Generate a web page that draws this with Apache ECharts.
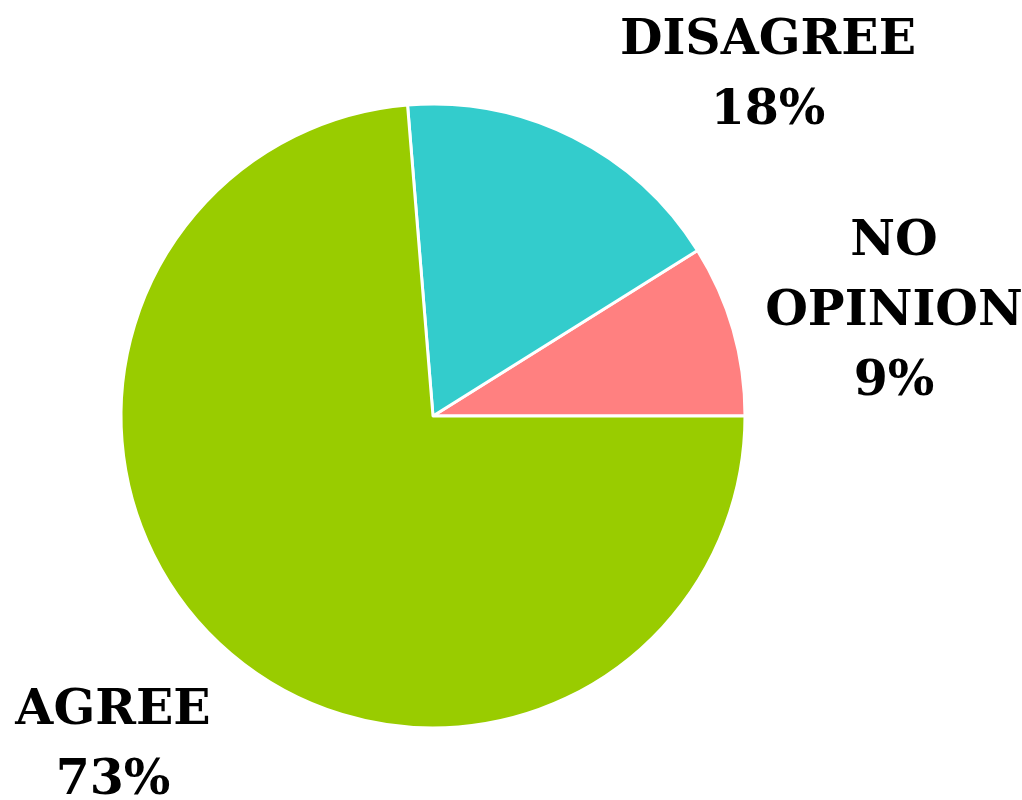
<!DOCTYPE html>
<html>
<head>
<meta charset="utf-8">
<script src="https://cdn.jsdelivr.net/npm/echarts@6/dist/echarts.min.js"></script>
<style>html,body{margin:0;padding:0;background:#fff}#c{width:1022px;height:800px}</style>
</head>
<body>
<div id="c"></div>
<script>
const categories = ['NO\nOPINION', 'DISAGREE', 'AGREE'];
// slice sizes as measured from the wedge angles
const sliceValues = [8.9, 17.4, 73.7];
// percentages as printed on the labels
const labelPercents = [9, 18, 73];
const colors = ['#FF8080', '#33CCCC', '#99CC00'];
// label anchor points (layout only)
const labelAnchors = [[894, 312], [768, 76], [113, 746]];

const chart = echarts.init(document.getElementById('c'), null, {renderer: 'canvas'});
chart.setOption({
  animation: false,
  series: [{
    type: 'pie',
    center: [433, 416],
    radius: 312,
    startAngle: 0,
    clockwise: false,
    data: categories.map((n, i) => ({name: n, value: sliceValues[i], itemStyle: {color: colors[i]}})),
    itemStyle: {borderColor: '#fff', borderWidth: 3},
    label: {
      show: true,
      position: 'outside',
      formatter: p => p.name + '\n' + labelPercents[p.dataIndex] + '%',
      fontFamily: 'DejaVu Serif',
      fontWeight: 'bold',
      fontSize: 49,
      lineHeight: 70,
      color: '#000',
      align: 'center',
      overflow: 'none',
      width: 400
    },
    labelLine: {show: false},
    labelLayout: p => ({
      x: labelAnchors[p.dataIndex][0],
      y: labelAnchors[p.dataIndex][1],
      align: 'center',
      verticalAlign: 'middle'
    })
  }]
});
</script>
</body>
</html>
